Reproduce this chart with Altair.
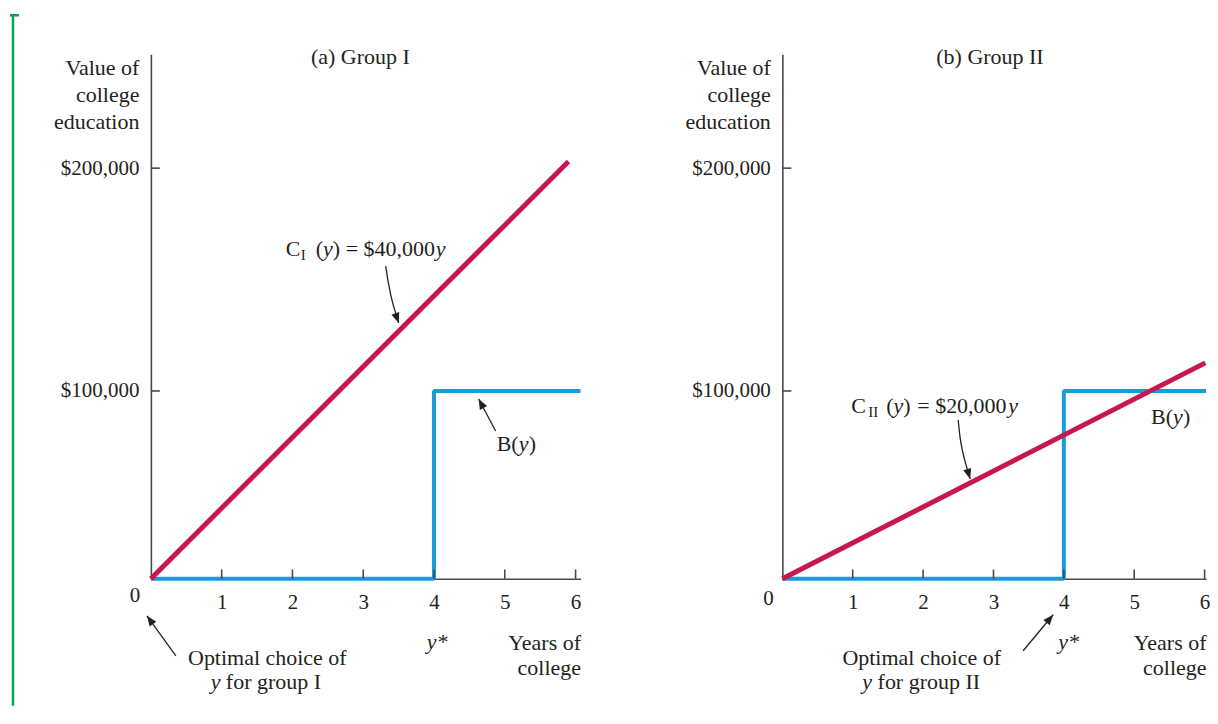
import altair as alt
import pandas as pd

FONT = "Liberation Serif"
INK = "#231F20"
AXIS_C = "#4A4A4A"
RED = "#C8174E"
BLUE = "#1A9BDA"
GREEN = "#00A651"

# ---------------- data ----------------
years = [1, 2, 3, 4, 5, 6]                 # x tick values (years of college)
dollar_ticks = [100000, 200000]            # y tick values
x_max_a = 6.07                             # end of the x axis, panel (a)
x_max_b = 6.02                             # end of the x axis, panel (b)
# the book draws the value axis non-uniformly: piecewise scale
y_breaks = [0, 100000, 200000, 251000]
y_pixels = [525, 337, 114, 0]

benefit_years = [0, 4, 4]                  # B(y) step; runs on to the axis end
benefit_value = [0, 0, 100000]

cost1_years = [0, 5.90]
cost1_value = [0, 203000]
cost2_years = [0, 6.01]
cost2_value = [0, 112600]

# annotations: (text, x, y, size, italic, align)
texts_a = [
    ("(a) Group I", 2.96, 246500, 22, False, "center"),
    ("0", -0.226, -12230, 21, False, "center"),
    ("Optimal choice of", 1.645, -45740, 22, False, "center"),
    ("y", 0.847, -58510, 22, True, "left"),
    ("for group I", 1.059, -58510, 22, False, "left"),
    ("y*", 3.897, -37230, 22, True, "left"),
    ("C", 1.906, 160500, 22, False, "left"),
    ("I", 2.118, 158700, 15, False, "left"),
    ("(", 2.33, 160500, 22, False, "left"),
    ("y", 2.431, 160500, 22, True, "left"),
    (")", 2.570, 160500, 22, False, "left"),
    ("= $40,000", 2.753, 160500, 22, False, "left"),
    ("y", 4.024, 160500, 22, True, "left"),
    ("B(", 4.885, 68080, 22, False, "left"),
    ("y", 5.196, 68080, 22, True, "left"),
    (")", 5.337, 68080, 22, False, "left"),
]
texts_b = [
    ("(b) Group II", 2.95, 246500, 22, False, "center"),
    ("0", -0.198, -13830, 21, False, "center"),
    ("Optimal choice of", 1.98, -45740, 22, False, "center"),
    ("y", 1.135, -58510, 22, True, "left"),
    ("for group II", 1.353, -58510, 22, False, "left"),
    ("y*", 3.92, -37230, 22, True, "left"),
    ("C", 0.980, 88300, 22, False, "left"),
    ("II", 1.221, 86170, 15, False, "left"),
    ("(", 1.476, 88300, 22, False, "left"),
    ("y", 1.580, 88300, 22, True, "left"),
    (")", 1.718, 88300, 22, False, "left"),
    ("= $20,000", 1.917, 88300, 22, False, "left"),
    ("y", 3.209, 88300, 22, True, "left"),
    ("B(", 5.239, 82440, 22, False, "left"),
    ("y", 5.551, 82440, 22, True, "left"),
    (")", 5.693, 82440, 22, False, "left"),
]

# arrow shafts: id -> (xs, ys); heads: (x, y, angle)
arrows_a = {
    "cost": ([3.318, 3.360, 3.417, 3.473, 3.501], [156050, 147080, 139010, 133630, 130490]),
    "benefit": ([4.871, 4.631], [78720, 95740]),
    "optimal": ([0.353, -0.056], [-40960, -19680]),
}
heads_a = [(3.501, 130490, 161), (4.631, 95740, 332), (-0.056, -19680, 324)]
arrows_b = {
    "cost": ([2.499, 2.527, 2.584, 2.627, 2.669], [84570, 73400, 63830, 58510, 53190]),
    "optimal": ([3.422, 3.848], [-38300, -19150]),
}
heads_b = [(2.669, 53190, 163), (3.848, -19150, 40)]

H = 525
yscale = alt.Scale(domain=y_breaks, range=y_pixels, nice=False, zero=False)


def make_axes(width):
    x_axis = alt.Axis(
        values=years, format="d", ticks=False, tickSize=0, grid=False,
        labelPadding=13, labelFontSize=21, labelFont=FONT, labelColor=INK, labelFlush=False,
        domainColor=AXIS_C, domainWidth=1.6,
        title=["Years of", "college"], titleFont=FONT, titleFontSize=22, titleFontWeight="normal",
        titleColor=INK, titleAlign="right", titleX=width, titleY=71, titleBaseline="alphabetic",
        titleLineHeight=25, titleAngle=0,
    )
    y_axis = alt.Axis(
        values=dollar_ticks, labelExpr="'$' + format(datum.value, ',')", ticks=False, tickSize=0,
        grid=False, labelPadding=12, labelFontSize=21, labelFont=FONT, labelColor=INK,
        labelBaseline="middle", domainColor=AXIS_C, domainWidth=1.6,
        title=["Value of", "college", "education"], titleFont=FONT, titleFontSize=22,
        titleFontWeight="normal", titleColor=INK, titleAlign="right", titleAngle=0,
        titleX=-12, titleY=20, titleBaseline="alphabetic", titleLineHeight=27,
    )
    return x_axis, y_axis


def panel(width, x_max, cost_x, cost_y, texts, arrows, heads, extra=None):
    xscale = alt.Scale(domain=[0, x_max], nice=False, zero=False)
    x_axis, y_axis = make_axes(width)

    def X(field="x"):
        return alt.X(f"{field}:Q", scale=xscale, axis=x_axis)

    def Y(field="y"):
        return alt.Y(f"{field}:Q", scale=yscale, axis=y_axis)

    bx = benefit_years + [x_max]
    by = benefit_value + [benefit_value[-1]]
    benefit = pd.DataFrame({"x": bx, "y": by, "i": range(len(bx))})
    cost = pd.DataFrame({"x": cost_x, "y": cost_y, "i": range(len(cost_x))})
    xt = pd.DataFrame({"x": years, "y": [0] * len(years), "y2": [5000] * len(years)})
    yt = pd.DataFrame({"x": [0] * len(dollar_ticks), "x2": [9 * x_max / width] * len(dollar_ticks),
                       "y": dollar_ticks})
    tdf = pd.DataFrame(texts, columns=["t", "x", "y", "s", "it", "al"])
    rows = []
    for k, (xs, ys) in arrows.items():
        for i, (a, b) in enumerate(zip(xs, ys)):
            rows.append({"id": k, "i": i, "x": a, "y": b})
    adf = pd.DataFrame(rows)
    hdf = pd.DataFrame(heads, columns=["x", "y", "a"])

    layers = []
    layers.append(
        alt.Chart(benefit).mark_line(color=BLUE, strokeWidth=4, strokeJoin="bevel", strokeCap="butt")
        .encode(x=X(), y=Y(), order="i:Q")
    )
    layers.append(
        alt.Chart(cost).mark_line(color=RED, strokeWidth=5, strokeJoin="bevel", strokeCap="butt")
        .encode(x=X(), y=Y(), order="i:Q")
    )
    layers.append(
        alt.Chart(xt).mark_rule(color=AXIS_C, strokeWidth=1.6)
        .encode(x=X(), y=Y(), y2="y2:Q")
    )
    layers.append(
        alt.Chart(yt).mark_rule(color=AXIS_C, strokeWidth=1.6)
        .encode(x=X(), x2="x2:Q", y=Y())
    )
    for italic in (False, True):
        for al in ("left", "center"):
            sub = tdf[(tdf["it"] == italic) & (tdf["al"] == al)][["t", "x", "y", "s"]]
            if len(sub) == 0:
                continue
            layers.append(
                alt.Chart(sub).mark_text(
                    font=FONT, fontStyle="italic" if italic else "normal", align=al,
                    baseline="alphabetic", color=INK,
                ).encode(x=X(), y=Y(), text="t:N", size=alt.Size("s:Q", scale=None))
            )
    layers.append(
        alt.Chart(adf).mark_line(color=INK, strokeWidth=1.3, interpolate="basis", strokeJoin="round")
        .encode(x=X(), y=Y(), detail="id:N", order="i:Q")
    )
    layers.append(
        alt.Chart(hdf).mark_point(
            shape="M0,0L-0.4,1L0.4,1Z", filled=True, color=INK, size=420, opacity=1, strokeWidth=0
        ).encode(x=X(), y=Y(), angle=alt.Angle("a:Q", scale=None))
    )
    if extra:
        layers.extend(extra)
    return alt.layer(*layers).properties(width=width, height=H)


# page-margin rule of the book page (decoration)
deco = pd.DataFrame({"k": [0]})
green = [
    alt.Chart(deco).mark_rule(color=GREEN, strokeWidth=2.5).encode(
        x=alt.value(-138), y=alt.value(-39), y2=alt.value(652)),
    alt.Chart(deco).mark_rule(color=GREEN, strokeWidth=2.5).encode(
        x=alt.value(-141), x2=alt.value(-132), y=alt.value(-39)),
]

left = panel(430, x_max_a, cost1_years, cost1_value, texts_a, arrows_a, heads_a, extra=green)
right = panel(424, x_max_b, cost2_years, cost2_value, texts_b, arrows_b, heads_b)

chart = (
    alt.hconcat(left, right, spacing=202, bounds="flush")
    .properties(padding={"left": 0, "top": 5, "right": 0, "bottom": 0})
    .configure(font=FONT)
    .configure_view(stroke=None)
)

chart.save("out.html", embed_options={"renderer": "svg", "actions": False})
